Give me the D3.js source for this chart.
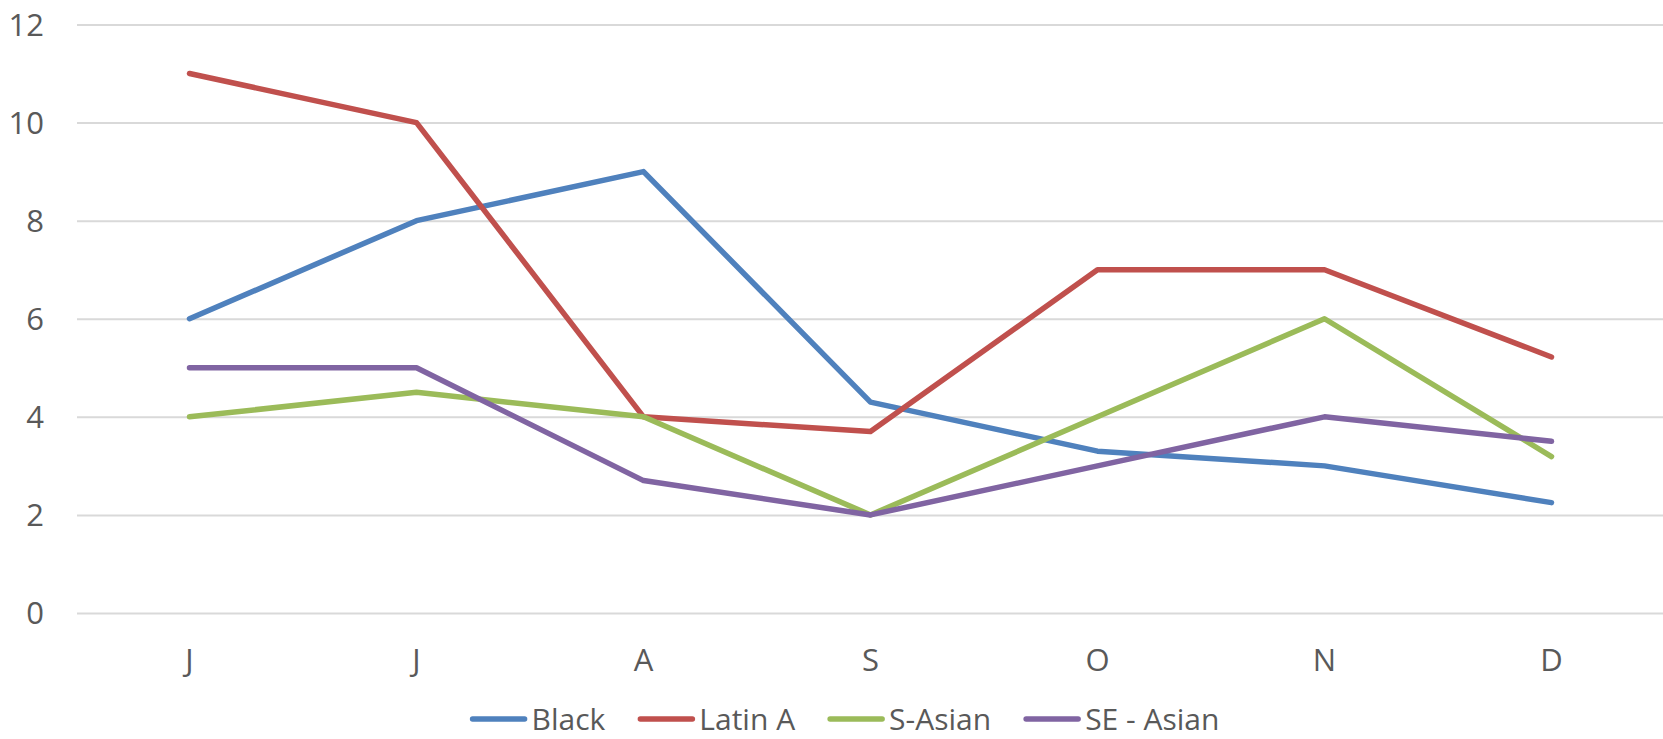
<!DOCTYPE html>
<html>
<head>
<meta charset="utf-8">
<script src="https://cdn.jsdelivr.net/npm/d3@7"></script>
<style>
  html, body { margin: 0; padding: 0; background: #fff; }
  svg { display: block; }
  text { font-family: "Open Sans", "Noto Sans", sans-serif; fill: #595959; }
</style>
</head>
<body>
<svg id="chart" width="1663" height="739"></svg>
<script>
const months = ["J", "J", "A", "S", "O", "N", "D"];
const seriesNames = ["Black", "Latin A", "S-Asian", "SE - Asian"];
const black   = [6, 8, 9, 4.3, 3.3, 3, 2.25];
const latinA  = [11, 10, 4, 3.7, 7, 7, 5.22];
const sAsian  = [4, 4.5, 4, 2, 4, 6, 3.19];
const seAsian = [5, 5, 2.7, 2, 3, 4, 3.5];
const yTicks  = [0, 2, 4, 6, 8, 10, 12];
const colors  = ["#4f81bd", "#c0504d", "#9bbb59", "#8064a2"];

const seriesValues = [black, latinA, sAsian, seAsian];

const svg = d3.select("#chart");
const plotLeft = 76, plotRight = 1665, plotTop = 24.5, plotBottom = 613;

const x = d3.scaleBand().domain(d3.range(months.length)).range([plotLeft, plotRight]).paddingInner(0).paddingOuter(0);
const y = d3.scaleLinear().domain([0, 12]).range([plotBottom, plotTop]);

// gridlines
const gridAxis = d3.axisLeft(y).tickValues(yTicks).tickSize(-(1663 - 77)).tickFormat("");
const g = svg.append("g").attr("transform", `translate(77,0)`).call(gridAxis);
g.select(".domain").remove();
g.selectAll(".tick line").attr("stroke", "#d9d9d9").attr("stroke-width", 2);

// y labels
const yAxis = d3.axisLeft(y).tickValues(yTicks).tickSize(0).tickPadding(0);
const ya = svg.append("g").attr("transform", `translate(44,0)`).call(yAxis);
ya.select(".domain").remove();
ya.selectAll(".tick text")
  .attr("font-size", 31)
  .attr("font-family", '"Open Sans", sans-serif')
  .attr("fill", "#595959")
  .attr("dy", "0.35em");

// x labels
const xAxis = d3.axisBottom(x).tickFormat(i => months[i]).tickSize(0).tickPadding(0);
const xa = svg.append("g").attr("transform", `translate(0,${plotBottom})`).call(xAxis);
xa.select(".domain").remove();
xa.selectAll(".tick text")
  .attr("font-size", 31)
  .attr("font-family", '"Open Sans", sans-serif')
  .attr("fill", "#595959")
  .attr("y", 0)
  .attr("dy", 58);

// lines
const line = d3.line()
  .x((d, i) => x(i) + x.bandwidth() / 2)
  .y(d => y(d));

seriesValues.forEach((vals, k) => {
  svg.append("path")
    .datum(vals)
    .attr("d", line)
    .attr("fill", "none")
    .attr("stroke", colors[k])
    .attr("stroke-width", 5.5)
    .attr("stroke-linecap", "round")
    .attr("stroke-linejoin", "round");
});

// legend
const legend = svg.append("g");
const swatch = 56, gapText = 5, gapItem = 33, legendY = 719, legendCenter = 845;
let cx = 0;
seriesNames.forEach((name, k) => {
  const it = legend.append("g");
  it.append("line")
    .attr("x1", cx + 2).attr("x2", cx + swatch - 2)
    .attr("y1", legendY).attr("y2", legendY)
    .attr("stroke", colors[k]).attr("stroke-width", 5.5).attr("stroke-linecap", "round");
  const t = it.append("text")
    .attr("x", cx + swatch + gapText)
    .attr("y", 729.5)
    .attr("font-size", 30)
    .text(name);
  const w = t.node().getComputedTextLength();
  cx += swatch + gapText + w + gapItem;
});
const totalW = cx - gapItem;
legend.attr("transform", `translate(${legendCenter - totalW / 2},0)`);
</script>
</body>
</html>
